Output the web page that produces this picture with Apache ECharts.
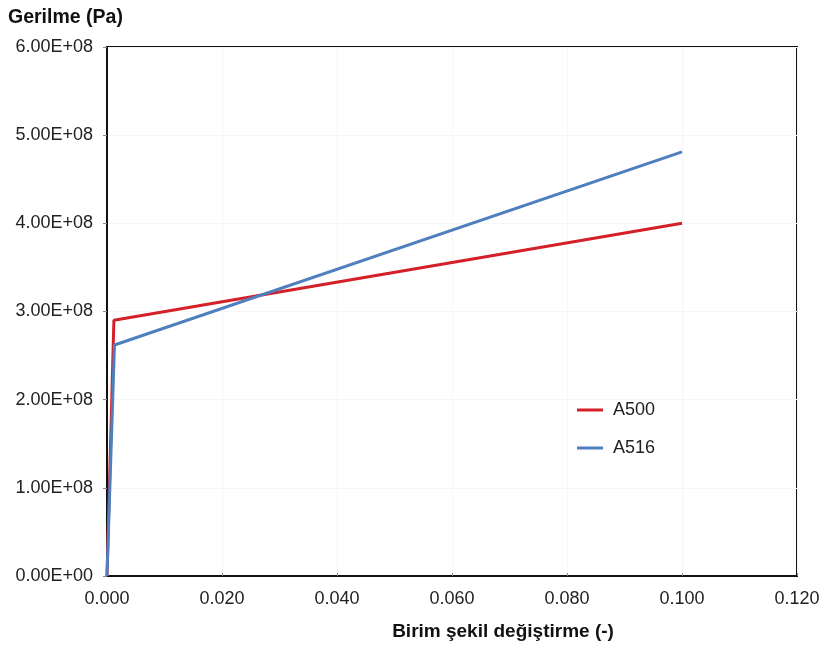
<!DOCTYPE html>
<html><head><meta charset="utf-8">
<script src="https://cdn.jsdelivr.net/npm/echarts@6/dist/echarts.min.js"></script>
<style>html,body{margin:0;padding:0;background:#fff}#c{width:829px;height:652px}</style>
</head><body><div id="c"></div>
<script>
const seriesNames = ['A500', 'A516'];
const a500Strain = [0, 0.0012, 0.1];
const a500Stress = [0, 2.90e8, 4.00e8];
const a516Strain = [0, 0.0013, 0.1];
const a516Stress = [0, 2.62e8, 4.81e8];
const xTitle = 'Birim şekil değiştirme (-)';
const yTitle = 'Gerilme (Pa)';

function fmtE(v){
  if (v === 0) return '0.00E+00';
  const e = Math.floor(Math.log10(Math.abs(v)));
  const m = v / Math.pow(10, e);
  return m.toFixed(2) + 'E+' + String(e).padStart(2, '0');
}
const font = 'Liberation Sans, Arial, sans-serif';
const chart = echarts.init(document.getElementById('c'), null, {renderer: 'canvas'});
chart.setOption({
  animation: false,
  backgroundColor: '#fff',
  graphic: [
    {type: 'text', left: 8, top: 8, style: {text: yTitle, font: 'bold 19.5px ' + font, fill: '#111'}},
    {type: 'text', x: 503, y: 632, style: {text: xTitle, font: 'bold 19px ' + font, fill: '#111', align: 'center', verticalAlign: 'middle'}}
  ],
  legend: {
    orient: 'vertical', left: 572, top: 396, itemGap: 20, itemWidth: 26, itemHeight: 3,
    icon: 'rect',
    textStyle: {fontFamily: font, fontSize: 18, color: '#222', padding: [0,0,0,5]},
    data: seriesNames
  },
  grid: {left: 107, right: 32, top: 47, bottom: 76, show: true, borderColor: '#111', borderWidth: 2},
  xAxis: {
    type: 'value', min: 0, max: 0.12, interval: 0.02,
    axisLine: {show: true, lineStyle: {color: '#111', width: 2}},
    axisTick: {show: true, inside: true, length: 3, lineStyle: {color: '#888'}},
    splitLine: {show: true, lineStyle: {color: '#f6f6f6'}},
    axisLabel: {fontFamily: font, fontSize: 18, color: '#222', margin: 14, formatter: v => v.toFixed(3)}
  },
  yAxis: {
    type: 'value', min: 0, max: 6e8, interval: 1e8,
    axisLine: {show: true, lineStyle: {color: '#111', width: 2}},
    axisTick: {show: true, length: 4, lineStyle: {color: '#888'}},
    splitLine: {show: true, lineStyle: {color: '#f6f6f6'}},
    axisLabel: {fontFamily: font, fontSize: 18, color: '#222', margin: 14, formatter: fmtE}
  },
  series: [
    {name: 'A500', type: 'line', showSymbol: false, color: '#d42129',
     lineStyle: {width: 3, color: '#d42129'},
     data: a500Strain.map((x, i) => [x, a500Stress[i]])},
    {name: 'A516', type: 'line', showSymbol: false, color: '#4f7fbd',
     lineStyle: {width: 3, color: '#4f7fbd'},
     data: a516Strain.map((x, i) => [x, a516Stress[i]])}
  ]
});
</script></body></html>
